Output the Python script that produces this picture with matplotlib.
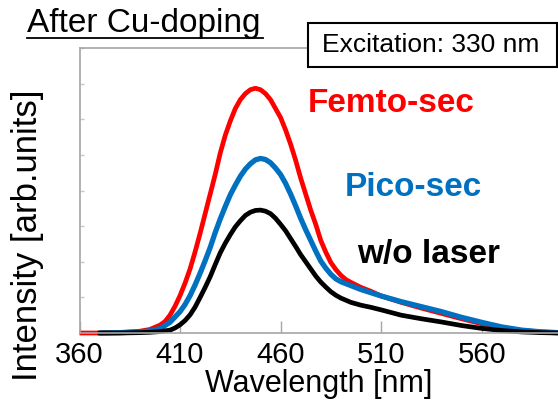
import matplotlib
matplotlib.use("Agg")
import matplotlib.pyplot as plt
from matplotlib.lines import Line2D
from matplotlib.patches import Rectangle

plt.rcParams['font.family'] = ['Liberation Sans', 'DejaVu Sans']

# Emission spectra after Cu-doping
wl_femto = [360, 370, 380, 390, 395, 400, 402.5, 405, 407.5, 410, 412.5, 415, 417.5, 420, 422.5,
            425, 427.5, 430, 432.5, 435, 437.5, 440, 442.5, 445, 447.5, 450, 452.5, 455, 457.5,
            460, 462.5, 465, 467.5, 470, 472.5, 475, 477.5, 480, 482.5, 485, 487.5, 490, 492.5,
            495, 500, 505, 510, 520, 530, 540, 550, 560, 570, 580, 590, 598]
i_femto = [0, 0, 0.01, 0.05, 0.1, 0.22, 0.32, 0.5, 0.75, 1.05, 1.4, 1.8, 2.28, 2.8, 3.35,
           3.9, 4.45, 5.05, 5.55, 5.95, 6.3, 6.55, 6.72, 6.83, 6.87, 6.83, 6.72, 6.55, 6.3,
           6.05, 5.7, 5.3, 4.85, 4.35, 3.9, 3.45, 3.05, 2.6, 2.27, 1.98, 1.78, 1.62, 1.5,
           1.42, 1.28, 1.17, 1.04, 0.86, 0.7, 0.55, 0.4, 0.26, 0.15, 0.07, 0.03, 0.01]

wl_pico = [370, 380, 390, 395, 400, 405, 410, 412.5, 415, 417.5, 420, 422.5, 425, 427.5, 430,
           432.5, 435, 437.5, 440, 442.5, 445, 447.5, 450, 452.5, 455, 457.5, 460, 462.5, 465,
           467.5, 470, 472.5, 475, 477.5, 480, 482.5, 485, 487.5, 490, 495, 500, 505, 510, 520,
           530, 540, 550, 560, 570, 580, 590, 598]
i_pico = [0, 0.01, 0.03, 0.06, 0.12, 0.3, 0.6, 0.8, 1.05, 1.35, 1.68, 2.03, 2.4, 2.82, 3.2,
          3.55, 3.88, 4.15, 4.4, 4.6, 4.75, 4.86, 4.9, 4.87, 4.78, 4.63, 4.45, 4.2, 3.9,
          3.57, 3.22, 2.9, 2.6, 2.3, 2.02, 1.82, 1.65, 1.52, 1.44, 1.33, 1.22, 1.13, 1.04, 0.88,
          0.74, 0.6, 0.44, 0.3, 0.17, 0.08, 0.03, 0.01]

wl_none = [369, 380, 390, 395, 400, 405, 407.5, 410, 412.5, 415, 417.5, 420, 422.5, 425, 427.5, 430,
           432.5, 435, 437.5, 440, 442.5, 445, 447.5, 450, 452.5, 455, 457.5, 460, 462.5, 465,
           467.5, 470, 472.5, 475, 477.5, 480, 482.5, 485, 487.5, 490, 495, 500, 505, 510, 520,
           530, 540, 550, 560, 570, 580, 590, 598]
i_none = [0, 0, 0.01, 0.02, 0.04, 0.08, 0.14, 0.23, 0.35, 0.51, 0.73, 1.0, 1.28, 1.58, 1.92, 2.25,
          2.52, 2.76, 2.98, 3.15, 3.3, 3.39, 3.44, 3.45, 3.42, 3.35, 3.22, 3.05, 2.87, 2.65,
          2.43, 2.2, 2.0, 1.8, 1.6, 1.43, 1.29, 1.16, 1.06, 0.98, 0.86, 0.78, 0.72, 0.65, 0.5,
          0.4, 0.31, 0.21, 0.13, 0.07, 0.03, 0.01, 0]

xticks = [360, 410, 460, 510, 560]

fig = plt.figure(figsize=(5.58, 4.03), dpi=100)
ax = fig.add_axes([79.5 / 558, 1 - 333 / 403, 1 - 79.5 / 558, (333 - 48) / 403])

line_kw = dict(solid_joinstyle='round', solid_capstyle='butt', clip_on=False)
ax.plot(wl_femto, i_femto, color='#FF0000', lw=3.4, **line_kw)
ax.plot(wl_pico, i_pico, color='#0070C0', lw=3.8, **line_kw)
ax.plot(wl_none, i_none, color='black', lw=3.4, **line_kw)

ax.set_xlim(360, 598)
ax.set_ylim(0, 8)
ax.set_xticks(xticks)
ax.set_yticks(range(0, 9))
ax.set_yticklabels([])
ax.tick_params(axis='x', direction='in', length=9, width=1, color='#A6A6A6', labelsize=21, pad=6)
ax.tick_params(axis='y', direction='in', length=3, width=1, color='#C8C8C8')
for s in ('left', 'top', 'bottom'):
    ax.spines[s].set_color('#A6A6A6')
    ax.spines[s].set_linewidth(1.2)
ax.spines['right'].set_visible(False)

ax.set_xlabel('Wavelength [nm]', fontsize=22, labelpad=0)
fig.text(28 / 558, 1 - 235 / 403, 'Intensity [arb.units]', fontsize=25, rotation=90,
         ha='center', va='center')

# curve labels
fig.text(308 / 558, 1 - 103 / 403, 'Femto-sec', color='#FF0000', fontsize=24, fontweight='bold', va='center')
fig.text(345 / 558, 1 - 188 / 403, 'Pico-sec', color='#0070C0', fontsize=24, fontweight='bold', va='center')
fig.text(357 / 558, 1 - 255 / 403, 'w/o laser', color='black', fontsize=24, fontweight='bold', va='center')

# title with underline
fig.text(27 / 558, 1 - 32 / 403, 'After Cu-doping', fontsize=24, va='baseline')
fig.add_artist(Line2D([27 / 558, 263 / 558], [1 - 38 / 403, 1 - 38 / 403], color='black', lw=1.3))

# excitation box
fig.add_artist(Rectangle((308 / 558, 1 - 67 / 403), 249 / 558, 44 / 403, transform=fig.transFigure,
                         facecolor='white', edgecolor='black', lw=1.5, zorder=5))
fig.text(431 / 558, 1 - 45 / 403, 'Excitation: 330 nm', fontsize=19, ha='center', va='center', zorder=6)

fig.savefig('out.png', dpi=100)
